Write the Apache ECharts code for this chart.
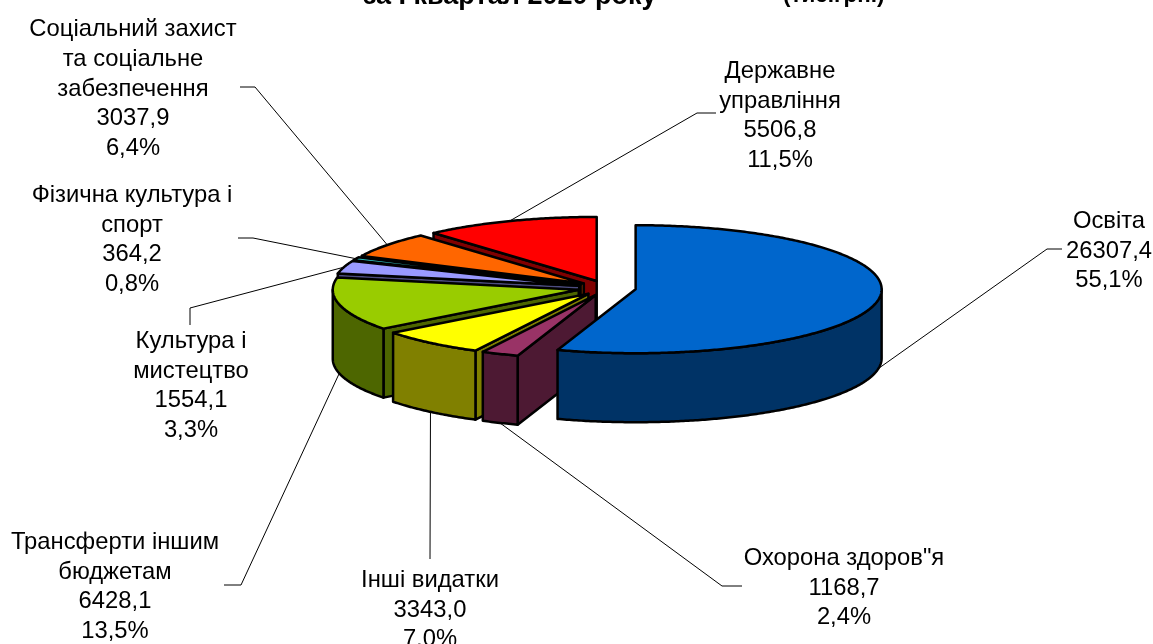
<!DOCTYPE html>
<html lang="uk">
<head>
    <title>Видатки за I квартал 2020 року</title>
    <meta charset="utf-8" />
    <script src="https://cdn.jsdelivr.net/npm/echarts@6/dist/echarts.min.js"></script>
    <style>
        html, body { margin: 0; background: #fff; }
        #main { width: 1153px; height: 644px; overflow: hidden; }
    </style>
</head>
<body>
<div id="main"></div>
<script>
    // data
    let categories = ['Освіта', 'Охорона здоров"я', 'Інші видатки', 'Трансферти іншим\nбюджетам', 'Культура і\nмистецтво', 'Фізична культура і\nспорт', 'Соціальний захист\nта соціальне\nзабезпечення', 'Державне\nуправління']
    let values = [26307.4, 1168.7, 3343.0, 6428.1, 1554.1, 364.2, 3037.9, 5506.8]
    let topColors = ['#0066CC', '#993366', '#FFFF00', '#99CC00', '#9999FF', '#33CCCC', '#FF6600', '#FF0000']
    let sideColors = ['#003366', '#4D1933', '#808000', '#4D6600', '#4D4D80', '#1A6666', '#803300', '#800000']

    // layout of the fake 3d pie
    let cx = 607, cy = 288, rx = 246, ry = 64, depth = 69, explode = 29
    let fontFamily = '"Liberation Sans", Arial, sans-serif'
    let fontSize = 23.8
    // label block centre, then the elbow points of the leader line (label side first)
    let labelCenter = [[1109, 251], [844, 588], [430, 610], [115, 587], [191, 386], [132, 240], [133, 89], [780, 116]]
    let leaderElbows = [
        [[1062, 249], [1047, 249]],
        [[742, 586], [722, 586]],
        [[430, 559]],
        [[224, 585], [241, 585]],
        [[190, 325], [190, 308]],
        [[238, 238], [253, 238]],
        [[240, 87], [255, 87]],
        [[716, 113], [697, 113]]
    ]

    let total = values.reduce((a, b) => a + b, 0)
    let startAngle = []
    let sum = 0
    values.forEach(function (v) {
        startAngle.push(sum / total * Math.PI * 2)
        sum += v
    })

    function sliceAngles(i) {
        return [startAngle[i], startAngle[i] + values[i] / total * Math.PI * 2]
    }

    // angle is clockwise from the top of the ellipse
    function apex(i) {
        let a = sliceAngles(i)
        let mid = (a[0] + a[1]) / 2
        return [cx + explode * Math.sin(mid), cy - explode * ry / rx * Math.cos(mid)]
    }

    function rim(i, angle, drop) {
        let c = apex(i)
        return [c[0] + rx * Math.sin(angle), c[1] - ry * Math.cos(angle) + drop]
    }

    function arc(i, from, to, drop) {
        let pts = []
        let n = Math.max(2, Math.ceil((to - from) / 0.01))
        for (let k = 0; k <= n; k++) {
            pts.push(rim(i, from + (to - from) * k / n, drop))
        }
        return pts
    }

    function poly(points, fill) {
        return {
            type: 'polygon',
            shape: { points: points },
            style: { fill: fill, stroke: '#000', lineWidth: 2.5, lineJoin: 'round' }
        }
    }

    function renderSlice(params, api) {
        let i = api.value(1)
        let a = sliceAngles(i)
        let c = apex(i)
        let low = [c[0], c[1] + depth]
        let side = sideColors[i]
        let children = []
        // only the radial walls that face the viewer
        if (Math.sin(a[0]) < -1e-6) {
            children.push(poly([c, rim(i, a[0], 0), rim(i, a[0], depth), low], side))
        }
        if (Math.sin(a[1]) > 1e-6) {
            children.push(poly([c, rim(i, a[1], 0), rim(i, a[1], depth), low], side))
        }
        let from = Math.max(a[0], Math.PI / 2)
        let to = Math.min(a[1], Math.PI * 1.5)
        if (to > from) {
            children.push(poly(arc(i, from, to, 0).concat(arc(i, from, to, depth).reverse()), side))
        }
        children.push(poly([c].concat(arc(i, a[0], a[1], 0)), topColors[i]))
        return { type: 'group', children: children }
    }

    function renderLabel(params, api) {
        let i = api.value(1)
        let a = sliceAngles(i)
        let mid = (a[0] + a[1]) / 2
        let facing = Math.cos(mid) < 0 ? depth : 0
        let value = values[i].toFixed(1).replace('.', ',')
        let share = (values[i] / total * 100).toFixed(1).replace('.', ',') + '%'
        return {
            type: 'group',
            children: [
                {
                    type: 'polyline',
                    shape: { points: leaderElbows[i].concat([rim(i, mid, facing)]) },
                    style: { fill: null, stroke: '#000', lineWidth: 1 }
                },
                {
                    type: 'text',
                    style: {
                        text: categories[i] + '\n' + value + '\n' + share,
                        x: labelCenter[i][0],
                        y: labelCenter[i][1],
                        align: 'center',
                        verticalAlign: 'middle',
                        lineHeight: 29.8,
                        fill: '#000',
                        font: fontSize + 'px ' + fontFamily
                    }
                }
            ]
        }
    }

    let chart = echarts.init(document.getElementById('main'))

    // painted back to front, which is the reverse of the data order here
    let sliceData = values.map((v, i) => ({ name: categories[i], value: [v, i] })).reverse()
    let labelData = values.map((v, i) => ({ name: categories[i], value: [v, i] }))

    chart.setOption({
        animation: false,
        title: [
            {
                text: 'за I квартал 2020 року',
                left: 358,
                top: -22,
                textStyle: { fontFamily: fontFamily, fontSize: 27, fontWeight: 'bold', color: '#000' }
            },
            {
                text: '(тис.грн.)',
                left: 778,
                top: -21,
                textStyle: { fontFamily: fontFamily, fontSize: 22.5, fontWeight: 'bold', color: '#000' }
            }
        ],
        series: [
            {
                type: 'custom',
                coordinateSystem: 'none',
                silent: true,
                renderItem: renderSlice,
                data: sliceData
            },
            {
                type: 'custom',
                coordinateSystem: 'none',
                silent: true,
                renderItem: renderLabel,
                data: labelData
            }
        ]
    })
</script>
</body>
</html>
